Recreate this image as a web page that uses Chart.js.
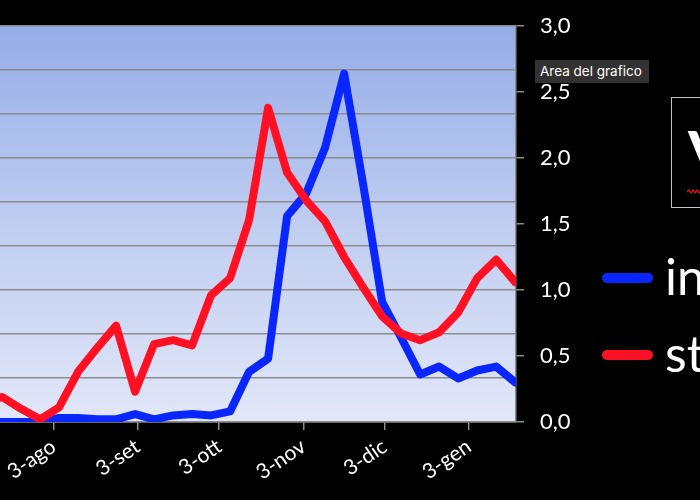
<!DOCTYPE html>
<html>
<head>
<meta charset="utf-8">
<script src="https://cdn.jsdelivr.net/npm/chart.js@4.4.1/dist/chart.umd.min.js"></script>
<style>
    html, body { margin: 0; padding: 0; background: #000; overflow: hidden; }
    #wrap { position: relative; width: 700px; height: 500px; overflow: hidden; background: #000; }
    #chart { position: absolute; left: 0; top: 0; }
    #tip {
        position: absolute; left: 535px; top: 60px; width: 114px; height: 23px; padding-left: 5px;
        box-sizing: border-box; background: #323232; color: #fff; font: 13.5px Inter, "Noto Sans", sans-serif;
        line-height: 23px; white-space: nowrap;
    }
    #logo {
        position: absolute; left: 671px; top: 97px; width: 90px; height: 111px;
        border: 1px solid #c4c4c4; box-sizing: border-box; background: #000;
    }
    #logo span {
        position: absolute; left: 16px; top: 23px; color: #fff;
        font: bold 64px Lato, sans-serif; line-height: 64px;
    }
    #logo svg { position: absolute; left: 15px; top: 91px; }
</style>
</head>
<body>
<div id="wrap">
    <canvas id="chart" width="760" height="500"></canvas>
    <div id="tip">Area del grafico</div>
    <div id="logo"><span>V</span><svg width="30" height="6"><path d="M0 3 L2 1 L4 4 L6 1 L8 4 L10 1 L12 4 L14 1 L16 4 L18 1 L20 4" stroke="#ff1020" stroke-width="1.2" fill="none"/></svg></div>
</div>
<script>
// month ticks (days counted from 3 August)
var tickDays = [0, 31, 61, 92, 122, 153];
var tickLabels = ['3-ago', '3-set', '3-ott', '3-nov', '3-dic', '3-gen'];

// weekly points (days from 3 August)
var weekDays = [-26, -19, -12, -5, 2, 9, 16, 23, 30, 37, 44, 51, 58, 65, 72, 79, 86, 93, 100, 107, 114, 121, 128, 135, 142, 149, 156, 163, 170];

var seriesNames = ['in', 'st'];
var blueValues = [0.0, 0.0, 0.0, 0.0, 0.03, 0.03, 0.02, 0.02, 0.06, 0.02, 0.05, 0.06, 0.05, 0.08, 0.38, 0.48, 1.56, 1.73, 2.08, 2.64, 1.80, 0.91, 0.64, 0.36, 0.42, 0.33, 0.39, 0.42, 0.30];
var redValues = [0.14, 0.19, 0.10, 0.02, 0.11, 0.38, 0.56, 0.73, 0.23, 0.59, 0.62, 0.58, 0.96, 1.09, 1.53, 2.38, 1.89, 1.68, 1.52, 1.25, 1.02, 0.80, 0.67, 0.62, 0.68, 0.83, 1.09, 1.23, 1.06];

var BLUE = '#0a26ff';
var RED = '#ff1023';
var GRID = '#8c8c8c';

function toPoints(values) {
    return weekDays.map(function (d, i) { return { x: d, y: values[i] }; });
}

// plot area gradient
var bgPlugin = {
    id: 'plotBg',
    beforeDraw: function (chart) {
        var a = chart.chartArea, ctx = chart.ctx;
        var g = ctx.createLinearGradient(0, a.top, 0, a.bottom);
        g.addColorStop(0, '#95ace7');
        g.addColorStop(0.5, '#bfcdf0');
        g.addColorStop(1, '#e2e7f8');
        ctx.save();
        ctx.fillStyle = g;
        ctx.fillRect(a.left, a.top, a.right - a.left, a.bottom - a.top);
        ctx.restore();
    }
};

// legend on the right side
var legendPlugin = {
    id: 'sideLegend',
    afterDraw: function (chart) {
        var ctx = chart.ctx;
        var rows = [278, 355];
        ctx.save();
        chart.data.datasets.forEach(function (ds, i) {
            var y = rows[i];
            ctx.strokeStyle = ds.borderColor;
            ctx.lineWidth = 10;
            ctx.lineCap = 'round';
            ctx.beginPath();
            ctx.moveTo(607, y);
            ctx.lineTo(648, y);
            ctx.stroke();
            ctx.fillStyle = '#fff';
            ctx.font = '50px Lato, sans-serif';
            ctx.textBaseline = 'alphabetic';
            ctx.textAlign = 'left';
            ctx.fillText(ds.label, 665, y + 17);
        });
        ctx.restore();
    }
};

var ctx = document.getElementById('chart');

var myChart = new Chart(ctx, {
    type: 'line',
    data: {
        datasets: [
            {
                label: seriesNames[0],
                data: toPoints(blueValues),
                yAxisID: 'y',
                xAxisID: 'x',
                borderColor: BLUE,
                backgroundColor: BLUE,
                borderWidth: 8,
                pointRadius: 0,
                tension: 0,
                borderJoinStyle: 'round',
                borderCapStyle: 'round',
                order: 2
            },
            {
                label: seriesNames[1],
                data: toPoints(redValues),
                yAxisID: 'y',
                xAxisID: 'x',
                borderColor: RED,
                backgroundColor: RED,
                borderWidth: 8,
                pointRadius: 0,
                tension: 0,
                borderJoinStyle: 'round',
                borderCapStyle: 'round',
                order: 1
            }
        ]
    },
    options: {
        responsive: false,
        animation: false,
        devicePixelRatio: 1,
        layout: { padding: { top: 26, left: 0, right: 0, bottom: 0 } },
        plugins: {
            legend: { display: false },
            tooltip: { enabled: false }
        },
        scales: {
            x: {
                type: 'linear',
                min: -19.75,
                max: 170.3,
                afterBuildTicks: function (scale) {
                    scale.ticks = tickDays.map(function (d) { return { value: d }; });
                },
                afterFit: function (scale) {
                    scale.height = 78;
                    scale.paddingLeft = 0;
                    scale.paddingRight = 0;
                },
                border: { display: true, color: GRID, width: 1.5 },
                grid: { drawOnChartArea: false, drawTicks: true, tickLength: 8, color: GRID, lineWidth: 1.5 },
                ticks: {
                    autoSkip: false,
                    minRotation: 34,
                    maxRotation: 34,
                    padding: 4,
                    color: '#fff',
                    font: { family: 'Lato', size: 21 },
                    callback: function (value, index) { return tickLabels[index]; }
                }
            },
            y: {
                position: 'right',
                min: 0,
                max: 3,
                afterFit: function (scale) {
                    scale.width = 244;
                    scale.paddingTop = 0;
                    scale.paddingBottom = 0;
                },
                border: { display: true, color: GRID, width: 1.5 },
                grid: { drawOnChartArea: false, drawTicks: true, tickLength: 8, color: GRID, lineWidth: 1.5 },
                ticks: {
                    stepSize: 0.5,
                    padding: 16,
                    color: '#fff',
                    font: { family: 'Lato', size: 22 },
                    callback: function (value) { return value.toFixed(1).replace('.', ','); }
                }
            },
            yg: {
                position: 'left',
                min: 0,
                max: 9,
                afterFit: function (scale) {
                    scale.width = 0;
                    scale.paddingTop = 0;
                    scale.paddingBottom = 0;
                },
                border: { display: false },
                grid: { color: GRID, lineWidth: 1.5, drawTicks: false },
                ticks: { display: false, stepSize: 1 }
            }
        }
    },
    plugins: [bgPlugin, legendPlugin]
});
</script>
</body>
</html>
